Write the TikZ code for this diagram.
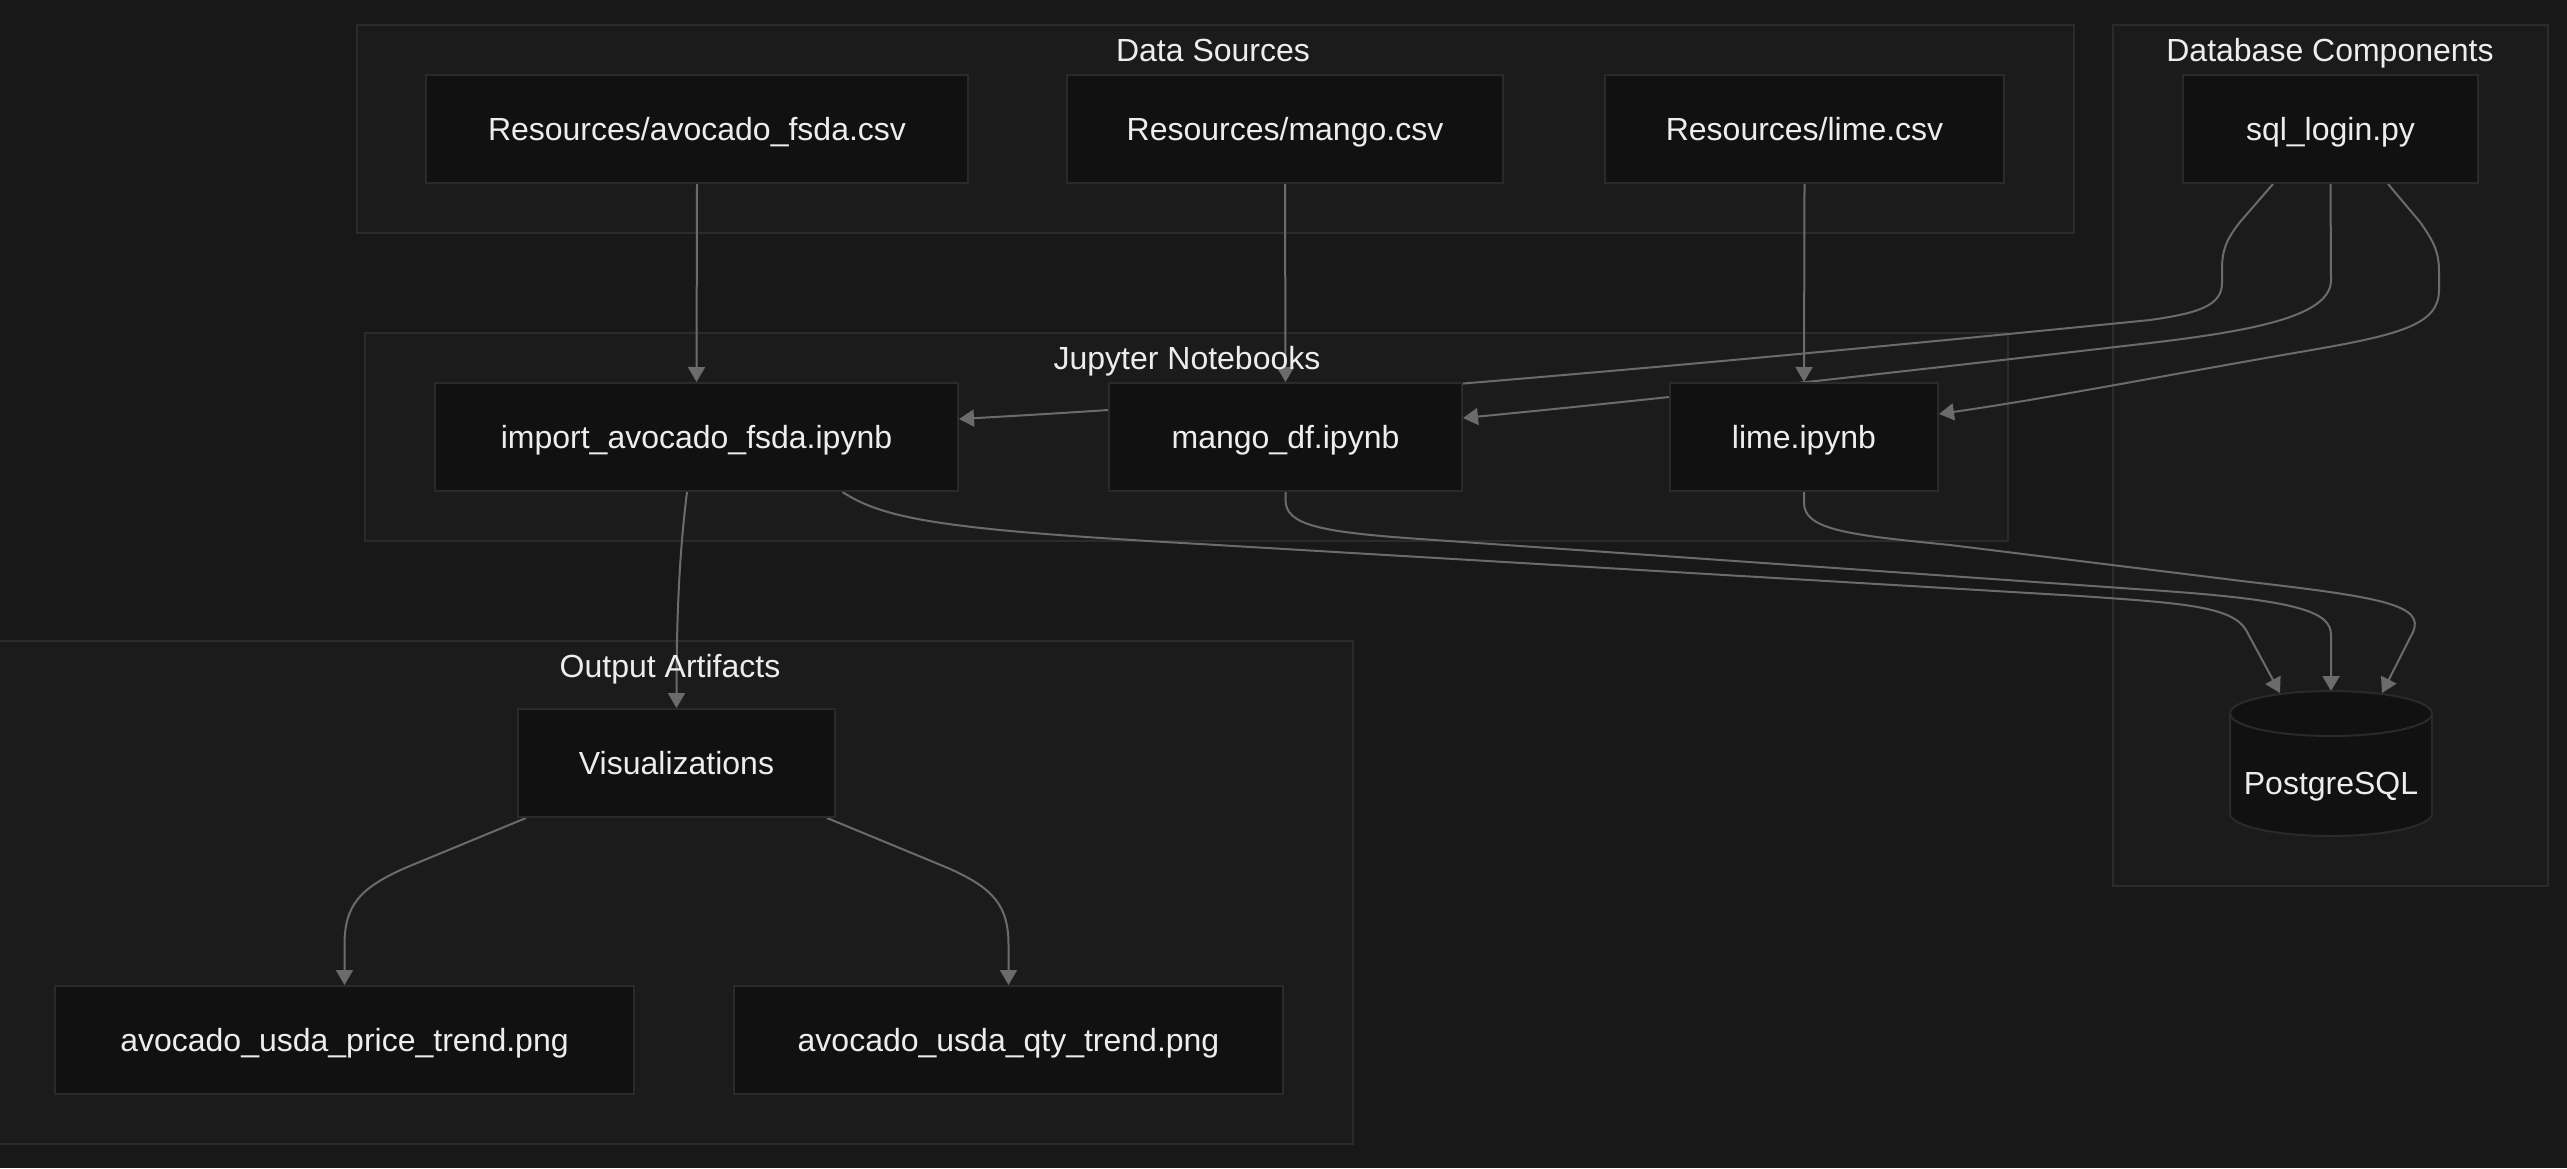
\documentclass[tikz,border=0pt]{standalone}
\usepackage{fontspec}
\setmainfont{Liberation Sans}
\usetikzlibrary{arrows.meta,calc}
\definecolor{bgc}{HTML}{181818}
\definecolor{clfill}{HTML}{1B1B1B}
\definecolor{clline}{HTML}{2B2B2B}
\definecolor{ndfill}{HTML}{111111}
\definecolor{ndline}{HTML}{2A2A2A}
\definecolor{edgec}{HTML}{6B6B6B}
\definecolor{txt}{HTML}{EDEDED}
\pgfdeclarelayer{bglayer}
\pgfdeclarelayer{clusterlayer}
\pgfdeclarelayer{edgelayer}
\pgfsetlayers{bglayer,clusterlayer,edgelayer,main}
\begin{document}
\begin{tikzpicture}[x=1pt,y=-1pt,
  box/.style={draw=ndline, line width=2pt, fill=ndfill, text=txt, font=\fontsize{32}{38}\selectfont, minimum height=108pt, inner sep=0pt, text height=23pt, text depth=0pt},
  cluster/.style={draw=clline, line width=2pt, fill=clfill, inner sep=0pt},
  ctitle/.style={text=txt, font=\fontsize{32}{38}\selectfont, inner sep=0pt, text height=23pt, text depth=0pt},
  edge/.style={draw=edgec, line width=2pt, -{Triangle[length=15pt,width=17pt]}}
]
\begin{pgfonlayer}{bglayer}
\fill[bgc] (0,0) rectangle (2567,1168);
\end{pgfonlayer}
\useasboundingbox (0,0) rectangle (2567,1168);

% clusters
\begin{pgfonlayer}{clusterlayer}
\node[cluster, minimum width=1717pt, minimum height=208pt] (ds) at (1215.5,129) {};
\node[cluster, minimum width=435pt, minimum height=861pt] (db) at (2330.5,455.5) {};
\node[cluster, minimum width=1643pt, minimum height=208pt] (jn) at (1186.5,437) {};
\node[cluster, minimum width=1355pt, minimum height=503pt] (oa) at (675.5,892.5) {};
\end{pgfonlayer}
\node[ctitle] (dst) at (1213,50) {Data Sources};
\node[ctitle] (dbt) at (2330,50) {Database Components};
\node[ctitle] (jnt) at (1187,358) {Jupyter Notebooks};
\node[ctitle] (oat) at (670,666) {Output Artifacts};

% nodes
\node[box, minimum width=542pt] (avocsv) at (697,129) {Resources/avocado\_fsda.csv};
\node[box, minimum width=436pt] (mangocsv) at (1285,129) {Resources/mango.csv};
\node[box, minimum width=399pt] (limecsv) at (1804.5,129) {Resources/lime.csv};
\node[box, minimum width=295pt] (sql) at (2330.5,129) {sql\_login.py};
\node[box, minimum width=523pt] (imp) at (696.5,437) {import\_avocado\_fsda.ipynb};
\node[box, minimum width=353pt] (mangonb) at (1285.5,437) {mango\_df.ipynb};
\node[box, minimum width=268pt] (limenb) at (1804,437) {lime.ipynb};
\node[box, minimum width=317pt] (viz) at (676.5,763) {Visualizations};
\node[box, minimum width=579pt] (price) at (344.5,1040) {avocado\_usda\_price\_trend.png};
\node[box, minimum width=549pt] (qty) at (1008.5,1040) {avocado\_usda\_qty\_trend.png};

% PostgreSQL cylinder
\path[draw=ndline, line width=2pt, fill=ndfill]
  (2230,713.5) -- (2230,813.5) arc (180:360:101pt and 22.5pt) -- (2432,713.5)
  arc (0:180:101pt and 22.5pt) -- cycle;
\draw[ndline, line width=2pt] (2230,713.5) arc (180:360:101pt and 22.5pt);
\node[ctitle] (pg) at (2331,783) {PostgreSQL};
\coordinate (pgL) at (2280,693);
\coordinate (pgM) at (2331,691);
\coordinate (pgR) at (2382,693);

% edges
\begin{pgfonlayer}{edgelayer}
\draw[edge] (avocsv.south) -- (imp.north);
\draw[edge] (mangocsv.south) -- (mangonb.north);
\draw[edge] (limecsv.south) -- (limenb.north);
% sql -> import
\draw[edge] ($(sql.south)+(-57.5,0)$) -- (2240,222) .. controls (2226,240) and (2222,250) .. (2222,270) -- (2222,283)
  .. controls (2222,305) and (2200,313) .. (2150,320)
  .. controls (1700,365) and (1300,400) .. ($(imp.east)+(0,-18)$);
% sql -> mango
\draw[edge] (sql.south) -- (2331,280)
  .. controls (2331,315) and (2260,330) .. (2150,343)
  .. controls (1900,372) and (1650,400) .. ($(mangonb.east)+(0,-19)$);
% sql -> lime
\draw[edge] ($(sql.south)+(57.5,0)$) -- (2420,222) .. controls (2434,242) and (2439,252) .. (2439,272) -- (2439,290)
  .. controls (2439,325) and (2400,335) .. (2300,352)
  .. controls (2150,378) and (2050,398) .. ($(limenb.east)+(0,-23)$);
% import -> postgres
\draw[edge] ($(imp.south)+(146,0)$) .. controls (885,520) and (950,530) .. (1200,544)
  -- (2080,596) .. controls (2180,603) and (2232,606) .. (2246,630) -- (pgL);
% mango -> postgres
\draw[edge] (mangonb.south) -- (1285.5,500) .. controls (1285.5,525) and (1320,532) .. (1420,539)
  -- (2150,590) .. controls (2300,600) and (2331,612) .. (2331,635) -- (pgM);
% lime -> postgres
\draw[edge] (limenb.south) -- (1804,503) .. controls (1804,530) and (1850,535) .. (1950,545)
  -- (2250,582) .. controls (2380,597) and (2425,605) .. (2413,632) -- (pgR);
% import -> viz
\draw[edge] ($(imp.south)+(-9.5,0)$) .. controls (681,540) and (676.5,600) .. (viz.north);
% viz -> outputs
\draw[edge] ($(viz.south west)+(9,0)$) -- (405,868) .. controls (360,888) and (344.5,905) .. (344.5,945) -- (price.north);
\draw[edge] ($(viz.south east)+(-9,0)$) -- (948,868) .. controls (993,888) and (1008.5,905) .. (1008.5,945) -- (qty.north);
\end{pgfonlayer}
\end{tikzpicture}
\end{document}
